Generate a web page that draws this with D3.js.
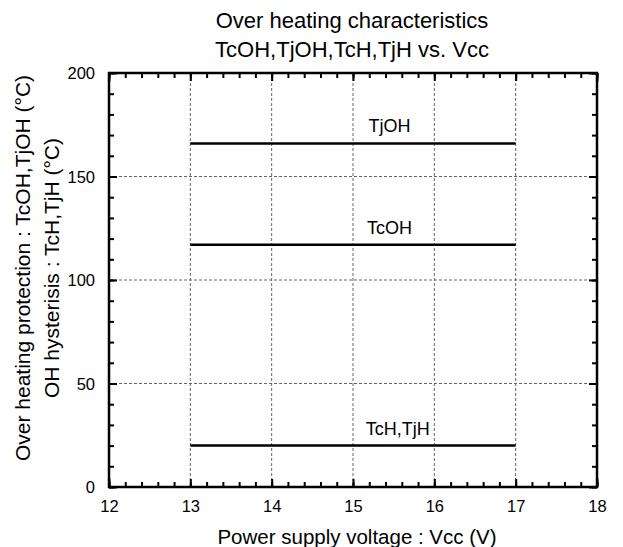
<!DOCTYPE html>
<html><head><meta charset="utf-8">
<script src="https://cdn.jsdelivr.net/npm/d3@7"></script>
<style>body{margin:0;background:#fff}svg{display:block;font-family:"Liberation Sans",Arial,sans-serif}</style>
</head><body><svg id="c" width="623" height="547"></svg>
<script>
const xTicks = [12,13,14,15,16,17,18];
const yTicks = [0,50,100,150,200];
const seriesNames = ["TjOH","TcOH","TcH,TjH"];
const seriesX = [[13,17],[13,17],[13,17]];
const seriesY = [[166,166],[117,117],[20,20]];
const labelX = [15.45,15.45,15.55];

const svg = d3.select("#c");
const L=109,R=597,T=73,B=487;
const x = d3.scaleLinear().domain([12,18]).range([L,R]);
const y = d3.scaleLinear().domain([0,200]).range([B,T]);
const FF = "Liberation Sans, Arial, sans-serif";

// grid
const g = svg.append("g");
g.selectAll(".gx").data(xTicks.slice(1,-1)).join("line")
 .attr("x1",d=>x(d)).attr("x2",d=>x(d)).attr("y1",T).attr("y2",B)
 .attr("stroke","#666").attr("stroke-width",1).attr("stroke-dasharray","3,2");
g.selectAll(".gy").data(yTicks.slice(1,-1)).join("line")
 .attr("y1",d=>y(d)).attr("y2",d=>y(d)).attr("x1",L).attr("x2",R)
 .attr("stroke","#666").attr("stroke-width",1).attr("stroke-dasharray","3,2");

// axes with inward ticks
const xMinor = d3.range(12,18.001,0.2);
const yMinor = d3.range(0,200.001,10);
function addAxis(axisGen, transform, vals, size){
  svg.append("g").attr("transform",transform)
   .call(axisGen.tickValues(vals).tickSize(size).tickFormat(""))
   .call(s=>{s.select(".domain").remove(); s.selectAll("line").attr("stroke","#000").attr("stroke-width",2);});
}
addAxis(d3.axisTop(x),`translate(0,${B})`,xMinor,5);
addAxis(d3.axisTop(x),`translate(0,${B})`,xTicks,8);
addAxis(d3.axisBottom(x),`translate(0,${T})`,xMinor,5);
addAxis(d3.axisBottom(x),`translate(0,${T})`,xTicks,8);
addAxis(d3.axisRight(y),`translate(${L},0)`,yMinor,5);
addAxis(d3.axisRight(y),`translate(${L},0)`,yTicks,8);
addAxis(d3.axisLeft(y),`translate(${R},0)`,yMinor,5);
addAxis(d3.axisLeft(y),`translate(${R},0)`,yTicks,8);

// tick labels
svg.append("g").attr("transform",`translate(0,${B})`)
 .call(d3.axisBottom(x).tickValues(xTicks).tickSize(0).tickPadding(0).tickFormat(d3.format("d")))
 .call(s=>{s.select(".domain").remove(); s.selectAll("text").attr("font-size",16.5).attr("font-family",FF).attr("fill","#000").attr("dy",null).attr("y",25);});
svg.append("g").attr("transform",`translate(${L},0)`)
 .call(d3.axisLeft(y).tickValues(yTicks).tickSize(0).tickPadding(14).tickFormat(d3.format("d")))
 .call(s=>{s.select(".domain").remove(); s.selectAll("text").attr("font-size",16.5).attr("font-family",FF).attr("fill","#000").attr("dy","0.36em");});

// frame
svg.append("rect").attr("x",L).attr("y",T).attr("width",R-L).attr("height",B-T)
 .attr("fill","none").attr("stroke","#000").attr("stroke-width",2.5);

// series
const line = d3.line().x(d=>x(d[0])).y(d=>y(d[1]));
seriesNames.forEach((n,i)=>{
  const pts = seriesX[i].map((v,j)=>[v,seriesY[i][j]]);
  svg.append("path").attr("d",line(pts)).attr("fill","none").attr("stroke","#000").attr("stroke-width",2.5);
  svg.append("text").attr("x",x(labelX[i])).attr("y",y(seriesY[i][0])-11)
   .attr("text-anchor","middle").attr("font-size",18).text(n);
});

// titles
svg.append("text").attr("x",352).attr("y",28).attr("text-anchor","middle").attr("font-size",22).text("Over heating characteristics");
svg.append("text").attr("x",352).attr("y",57).attr("text-anchor","middle").attr("font-size",22).text("TcOH,TjOH,TcH,TjH vs. Vcc");
svg.append("text").attr("x",357).attr("y",544).attr("text-anchor","middle").attr("font-size",20.5).text("Power supply voltage : Vcc (V)");
const yl = svg.append("text").attr("transform",`translate(0,268) rotate(-90)`).attr("text-anchor","middle").attr("font-size",21);
yl.append("tspan").attr("x",0).attr("y",30).text("Over heating protection : TcOH,TjOH (°C)");
yl.append("tspan").attr("x",0).attr("y",59).text("OH hysterisis : TcH,TjH (°C)");
</script></body></html>
